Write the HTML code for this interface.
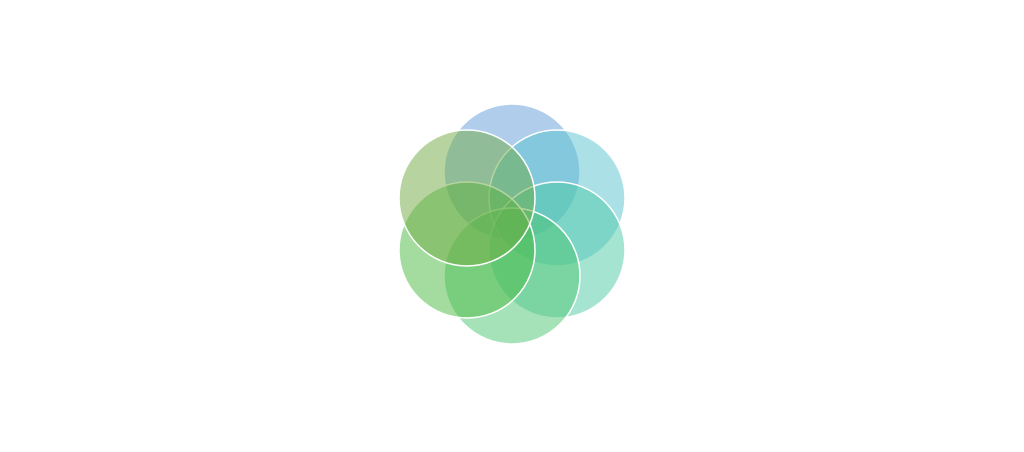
<!DOCTYPE html>
<html><head><meta charset="utf-8"><style>html,body{margin:0;padding:0;background:#fff;width:1024px;height:452px;overflow:hidden}</style></head>
<body>
<svg width="1024" height="452" viewBox="0 0 1024 452" xmlns="http://www.w3.org/2000/svg">
<g stroke="#fff" stroke-width="1.5">
<circle cx="512" cy="172" r="68" fill="rgb(97,157,217)" fill-opacity="0.5"/>
<circle cx="557" cy="198" r="68" fill="rgb(85,193,205)" fill-opacity="0.5"/>
<circle cx="557" cy="250" r="68" fill="rgb(77,201,165)" fill-opacity="0.5"/>
<circle cx="512" cy="276" r="68" fill="rgb(77,197,113)" fill-opacity="0.5"/>
<circle cx="467" cy="250" r="68" fill="rgb(73,185,65)" fill-opacity="0.5"/>
<circle cx="467" cy="198" r="68" fill="rgb(111,169,65)" fill-opacity="0.5"/>
</g>
</svg>
</body></html>
